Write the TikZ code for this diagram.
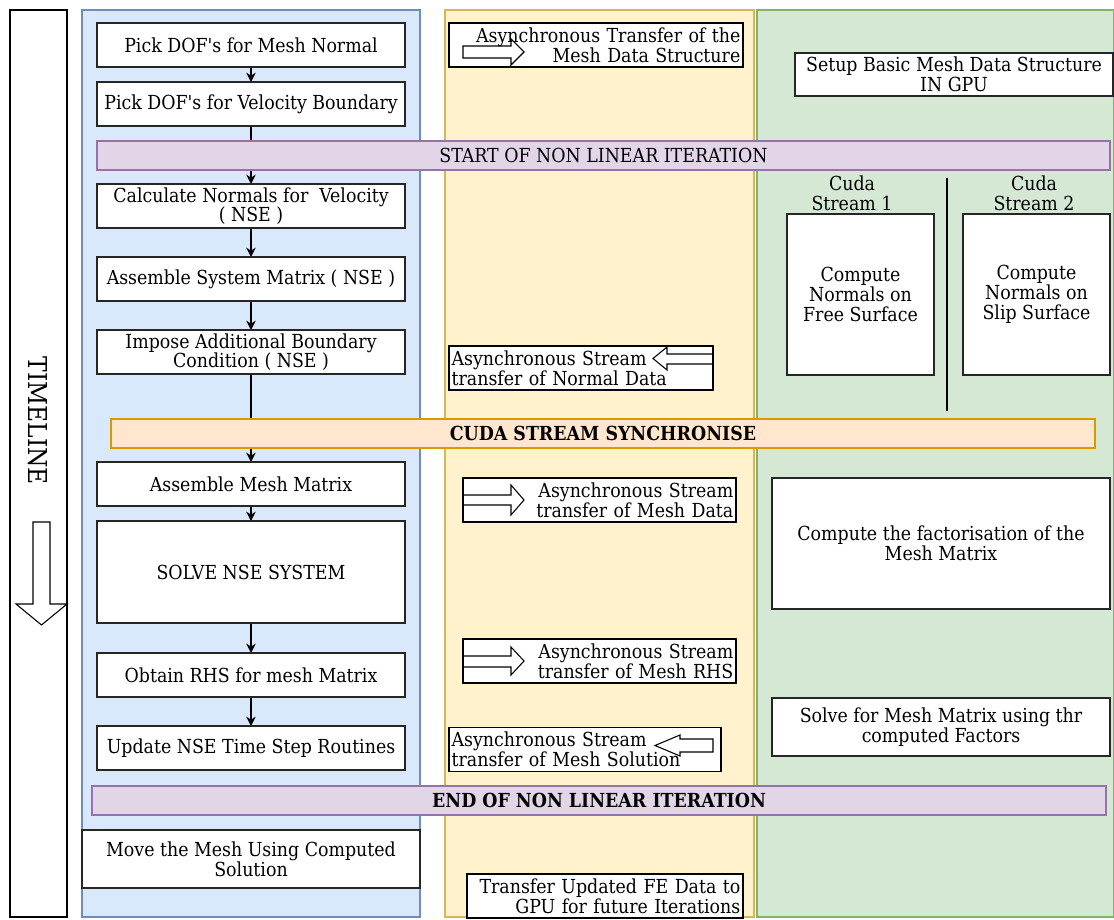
\documentclass[tikz,border=0pt]{standalone}
\usepackage{fontspec}
\setmainfont{DejaVu Serif Condensed}
\usetikzlibrary{positioning,arrows.meta,backgrounds}
\pgfdeclarelayer{links}
\pgfsetlayers{background,links,main}

\definecolor{bluefill}{HTML}{DAE8FC}
\definecolor{blueline}{HTML}{6C8EBF}
\definecolor{yellowfill}{HTML}{FFF2CC}
\definecolor{yellowline}{HTML}{D6B656}
\definecolor{greenfill}{HTML}{D5E8D4}
\definecolor{greenline}{HTML}{82B366}
\definecolor{purplefill}{HTML}{E1D5E7}
\definecolor{purpleline}{HTML}{9673A6}
\definecolor{orangefill}{HTML}{FFE6CC}
\definecolor{orangeline}{HTML}{D79B00}

\newcommand{\boxfont}{\fontsize{14.5}{14.75}\selectfont}
\newcommand{\sq}{\textquotesingle}

\begin{document}
\begin{tikzpicture}[
    x=0.75pt, y=-0.75pt,
    stepbox/.style={rectangle, draw=black!85, fill=white, line width=0.9pt, outer sep=0pt, minimum width=231pt, minimum height=33pt, align=center, inner sep=1pt, font=\boxfont},
    xferbox/.style={rectangle, draw=black, fill=white, line width=0.9pt, minimum height=33pt, inner xsep=2pt, inner ysep=1pt, font=\boxfont},
    gpubox/.style={rectangle, draw=black!85, fill=white, line width=0.9pt, align=center, inner sep=1pt, font=\boxfont},
    phase/.style={rectangle, fill=purplefill, draw=purpleline, line width=0.9pt, minimum height=21.75pt, inner sep=0pt, font=\boxfont},
    syncbar/.style={rectangle, fill=orangefill, draw=orangeline, line width=0.9pt, minimum height=21.75pt, inner sep=0pt, font=\boxfont\bfseries},
    flow/.style={-{Stealth[length=7pt,width=7pt]}, line width=0.8pt},
    hollow/.style={draw=black, line width=0.8pt}
]
\useasboundingbox (0,0) rectangle (1114,920);

% Swim lanes
\begin{scope}[on background layer]
\draw[draw=blueline, fill=bluefill, line width=0.8pt] (82,10) rectangle (420,917);
\draw[draw=yellowline, fill=yellowfill, line width=0.8pt] (445,10) rectangle (754,917);
\draw[draw=greenline, fill=greenfill, line width=0.8pt] (757,10) rectangle (1113.5,917);
\end{scope}

% Timeline
\node[draw, fill=white, line width=0.9pt, minimum width=42.75pt, minimum height=680.25pt] (timebox) at (38.5,463.5) {};
\node[rotate=-90, font=\fontsize{19.5}{20}\selectfont] (timelabel) at (38,421) {TIMELINE};
\draw[hollow] (33,522) -- (50,522) -- (50,604) -- (67,604) -- (41.5,625) -- (16,604) -- (33,604) -- cycle;

% CPU side
\node[stepbox] (dofnormal) at (251,45) {Pick DOF\sq s for Mesh Normal};
\node[stepbox, below=11.25pt of dofnormal] (dofvel) {Pick DOF\sq s for Velocity Boundary};
\node[stepbox, below=43.5pt of dofvel] (calcnormal) {Calculate Normals for~ Velocity\\( NSE )};
\node[stepbox, below=21.75pt of calcnormal] (assemble) {Assemble System Matrix ( NSE )};
\node[stepbox, below=21.75pt of assemble] (impose) {Impose Additional Boundary\\Condition ( NSE )};
\node[stepbox, below=66pt of impose] (meshmat) {Assemble Mesh Matrix};
\node[stepbox, below=11.25pt of meshmat, minimum height=76.5pt] (solvense) {SOLVE NSE SYSTEM};
\node[stepbox, below=22.5pt of solvense] (rhs) {Obtain RHS for mesh Matrix};
\node[stepbox, below=21.75pt of rhs] (update) {Update NSE Time Step Routines};
\node[stepbox, minimum width=253.5pt, minimum height=43.5pt] (movemesh) at (251,859) {Move the Mesh Using Computed\\Solution};

% Phase bars
\node[phase, minimum width=759.75pt] (startiter) at (603.5,155.5) {START OF NON LINEAR ITERATION};
\node[syncbar, minimum width=738pt] (sync) at (603,433.5) {CUDA STREAM SYNCHRONISE};
\node[phase, minimum width=760.5pt, font=\boxfont\bfseries] (enditer) at (599,800.5) {END OF NON LINEAR ITERATION};

% Transfers
\node[xferbox, text width=216.5pt, align=right] (xferstruct) at (596,45) {Asynchronous Transfer of the\\Mesh Data Structure};
\node[xferbox, text width=194pt, align=left] (xfernormal) at (581,368) {Asynchronous Stream\\transfer of Normal Data};
\node[xferbox, text width=200.75pt, align=right] (xferdata) at (599.5,500) {Asynchronous Stream\\transfer of Mesh Data};
\node[xferbox, text width=200.75pt, align=right] (xferrhs) at (599.5,661) {Asynchronous Stream\\transfer of Mesh RHS};
\node[xferbox, text width=200pt, align=left] (xfersol) at (585,749.5) {Asynchronous Stream\\transfer of Mesh Solution};
\node[xferbox, text width=203pt, align=right] (xferfe) at (605,896) {Transfer Updated FE Data to\\GPU for future Iterations};

% hollow arrows in the transfer boxes
\draw[hollow] (463,46) -- (511,46) -- (511,39) -- (524,52) -- (511,65) -- (511,58) -- (463,58) -- cycle;
\draw[hollow] (713,354) -- (667,354) -- (667,347) -- (653,358.5) -- (667,370) -- (667,364) -- (713,364) -- cycle;
\draw[hollow] (463,495) -- (511,495) -- (511,485) -- (524,500) -- (511,515) -- (511,505) -- (463,505) -- cycle;
\draw[hollow] (463,656) -- (511,656) -- (511,647) -- (524,661) -- (511,675) -- (511,667) -- (463,667) -- cycle;
\draw[hollow] (713,739) -- (680,739) -- (680,735) -- (655,745.5) -- (680,756) -- (680,752) -- (713,752) -- cycle;

% GPU side
\node[gpubox, minimum width=238.5pt, minimum height=32.25pt] (setupgpu) at (954,74.5) {Setup Basic Mesh Data Structure\\IN GPU};
\node[font=\boxfont, align=center, inner sep=0pt] (stream1) at (852,193) {Cuda\\Stream 1};
\node[font=\boxfont, align=center, inner sep=0pt] (stream2) at (1034,193) {Cuda\\Stream 2};
\node[gpubox, minimum width=110.25pt, minimum height=120.75pt] (freesurf) at (860.5,294.5) {Compute\\Normals on\\Free Surface};
\node[gpubox, minimum width=110.25pt, minimum height=120.75pt] (slipsurf) at (1036.5,294.5) {Compute\\Normals on\\Slip Surface};
\node[gpubox, minimum width=253.5pt, minimum height=98.25pt] (factor) at (941,543.5) {Compute the factorisation of the\\Mesh Matrix};
\node[gpubox, minimum width=253.5pt, minimum height=43.5pt] (solvemesh) at (941,727) {Solve for Mesh Matrix using thr\\computed Factors};
\draw[line width=2.2pt] (947,178) -- (947,411);

% Connectors
\begin{pgfonlayer}{links}
\draw[flow] (dofnormal) -- (dofvel);
\draw[flow] (dofvel) -- (calcnormal);
\draw[flow] (calcnormal) -- (assemble);
\draw[flow] (assemble) -- (impose);
\draw[flow] (impose) -- (meshmat);
\draw[flow] (meshmat) -- (solvense);
\draw[flow] (solvense) -- (rhs);
\draw[flow] (rhs) -- (update);
\end{pgfonlayer}

\end{tikzpicture}
\end{document}
